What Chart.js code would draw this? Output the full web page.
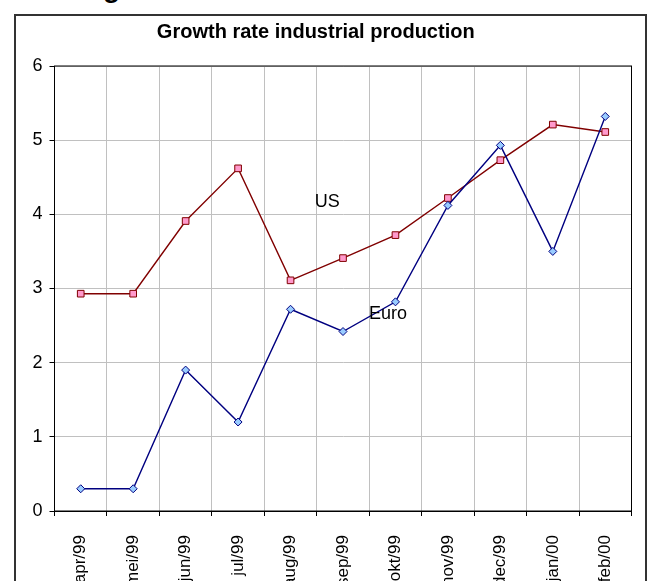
<!DOCTYPE html>
<html>
<head>
<meta charset="utf-8">
<script src="https://cdn.jsdelivr.net/npm/chart.js@4/dist/chart.umd.min.js"></script>
<style>
    html, body { margin: 0; padding: 0; background: #fff; overflow: hidden; width: 650px; height: 581px; }
    .frame { position: absolute; left: 14px; top: 14px; width: 629px; height: 620px; border: 2px solid #333; }
    .cut { position: absolute; left: 103px; top: -26px; font: bold 28px/28px 'Liberation Sans', Arial, sans-serif; color: #000; }
    #wrap { position: absolute; left: 0; top: 0; width: 650px; height: 601px; }
</style>
</head>
<body>
<div class="cut">g</div>
<div class="frame"></div>
<div id="wrap"><canvas id="growthChart" width="650" height="601"></canvas></div>
<script>
// ---- DATA ----
const MONTHS = ['apr/99', 'mei/99', 'jun/99', 'jul/99', 'aug/99', 'sep/99', 'okt/99', 'nov/99', 'dec/99', 'jan/00', 'feb/00'];
const EURO = [0.3, 0.3, 1.9, 1.2, 2.72, 2.42, 2.82, 4.12, 4.93, 3.5, 5.32];
const US = [2.93, 2.93, 3.91, 4.62, 3.11, 3.41, 3.72, 4.22, 4.73, 5.21, 5.11];
const Y_TICKS = [0, 1, 2, 3, 4, 5, 6];
// series names written inside the plot (x = category index, y = value)
const NOTES = [
    { text: 'US', x: 4.7, y: 4.17 },
    { text: 'Euro', x: 5.86, y: 2.66 }
];

const FONT = "'Liberation Sans', Arial, sans-serif";
const GRID = '#c0c0c0';

// black box round the plot area
const plotBorder = {
    id: 'plotBorder',
    beforeDatasetsDraw(chart) {
        const { ctx, chartArea: a } = chart;
        ctx.save();
        ctx.strokeStyle = '#000';
        ctx.lineWidth = 1;
        ctx.strokeRect(a.left, a.top, a.right - a.left, a.bottom - a.top);
        ctx.restore();
    }
};

// series names as text labels
const noteLabels = {
    id: 'noteLabels',
    afterDatasetsDraw(chart) {
        const { ctx, scales } = chart;
        ctx.save();
        ctx.font = '18px ' + FONT;
        ctx.fillStyle = '#000';
        ctx.textAlign = 'center';
        ctx.textBaseline = 'middle';
        NOTES.forEach(n => {
            ctx.fillText(n.text, scales.x.getPixelForValue(n.x), scales.y.getPixelForValue(n.y));
        });
        ctx.restore();
    }
};

new Chart(document.getElementById('growthChart'), {
    type: 'line',
    data: {
        labels: MONTHS,
        datasets: [
            {
                label: 'Euro',
                data: EURO,
                borderColor: '#000080',
                borderWidth: 1.4,
                pointStyle: 'rectRot',
                pointRadius: 4,
                pointBackgroundColor: '#99ccff',
                pointBorderColor: '#000080',
                pointBorderWidth: 1,
                tension: 0
            },
            {
                label: 'US',
                data: US,
                borderColor: '#800000',
                borderWidth: 1.4,
                pointStyle: 'rect',
                pointRadius: 4.7,
                pointBackgroundColor: '#ff99cc',
                pointBorderColor: '#800000',
                pointBorderWidth: 1,
                tension: 0
            }
        ]
    },
    options: {
        responsive: false,
        animation: false,
        devicePixelRatio: 1,
        layout: { padding: { left: 0, right: 18.5, top: 0, bottom: 0 } },
        plugins: {
            legend: { display: false },
            tooltip: { enabled: false },
            title: {
                display: true,
                text: 'Growth rate industrial production',
                color: '#000',
                font: { family: FONT, size: 20, weight: 'bold' },
                padding: { top: 20, bottom: 22 }
            }
        },
        scales: {
            x: {
                offset: true,
                grid: { offset: true, color: GRID, tickLength: 5, tickColor: '#000' },
                border: { color: '#000', width: 1 },
                ticks: {
                    autoSkip: false,
                    minRotation: 90,
                    maxRotation: 90,
                    padding: 19,
                    color: '#000',
                    font: { family: FONT, size: 17 }
                },
                afterFit: s => { s.height = 90; }
            },
            y: {
                min: 0,
                max: 6,
                afterBuildTicks: s => { s.ticks = Y_TICKS.map(v => ({ value: v })); },
                grid: { color: GRID, tickLength: 5, tickColor: '#000' },
                border: { color: '#000', width: 1 },
                ticks: {
                    padding: 7,
                    color: '#000',
                    font: { family: FONT, size: 18 }
                },
                afterFit: s => { s.width = 54.5; }
            }
        }
    },
    plugins: [plotBorder, noteLabels]
});
</script>
</body>
</html>
